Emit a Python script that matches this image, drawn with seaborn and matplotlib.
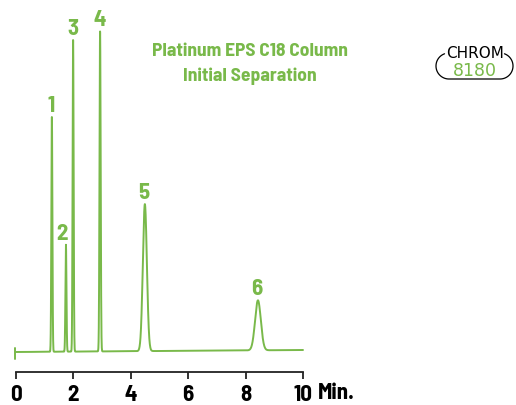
import numpy as np
import pandas as pd
import matplotlib
matplotlib.use("Agg")
import matplotlib.pyplot as plt
import seaborn as sns

# Peak table: retention time (min), height (detector units), width (sigma, min)
peak_ids = ["1", "2", "3", "4", "5", "6"]
retention = [1.25, 1.74, 1.99, 2.93, 4.49, 8.43]
heights = [235, 107, 312, 320, 147, 50]
sigmas = [0.018, 0.018, 0.018, 0.020, 0.070, 0.100]
label_dx = [-1, -4, 0, 0, -1, -1]          # label nudge, pixels
baseline_drift = [0.0, 2.0]               # signal at 0 and 10 min

x_ticks = [0, 2, 4, 6, 8, 10]
x_tick_labels = ["0", "2", "4", "6", "8", "10"]
title_lines = ["Platinum EPS C18 Column", "Initial Separation"]

GREEN = "#79b94a"
DARK = "#222222"

sns.set_style("white")
COND = ["Barlow Semi Condensed", "Roboto Condensed", "DejaVu Sans"]
plt.rcParams["font.family"] = COND

W, H = 516, 405
fig = plt.figure(figsize=(W / 100, H / 100), dpi=100)
ax = fig.add_axes([16 / W, 33 / H, (303 - 16) / W, 372 / H])

# Chromatogram trace built from the peak table
t = np.linspace(-0.03, 10.0, 4000)
sig = baseline_drift[0] + (baseline_drift[1] - baseline_drift[0]) * np.clip(t, 0, 10) / 10
for rt, h, s in zip(retention, heights, sigmas):
    sig = sig + h * np.exp(-0.5 * ((t - rt) / s) ** 2)
df = pd.DataFrame({"time": t, "signal": sig})
sns.lineplot(data=df, x="time", y="signal", ax=ax, color=GREEN, lw=1.4,
             clip_on=False, estimator=None, sort=False)
# injection marker at the start of the trace
ax.plot([-0.03, -0.03], [-7, 4], color=GREEN, lw=1.4, clip_on=False)

for pid, rt, h, dx in zip(peak_ids, retention, heights, label_dx):
    ax.annotate(pid, xy=(rt, h + baseline_drift[1] * rt / 10), xytext=(dx, 1),
                textcoords="offset pixels", ha="center", va="bottom",
                color=GREEN, fontsize=16.5, fontweight="bold")

ax.set_xlim(0, 10)
ax.set_ylim(-20, 352)
ax.set_xlabel("")
ax.set_ylabel("")
ax.set_yticks([])
ax.set_xticks(x_ticks)
ax.set_xticklabels(x_tick_labels, fontsize=16.5, fontweight="bold", color="black")
ax.tick_params(axis="x", direction="out", length=5, width=1.3, color=DARK, pad=4.5,
               bottom=True)
for side in ["left", "top", "right"]:
    ax.spines[side].set_visible(False)
ax.spines["bottom"].set_color(DARK)
ax.spines["bottom"].set_linewidth(1.3)
ax.patch.set_alpha(0)

ax.annotate("Min.", xy=(10, 0), xycoords=("data", "axes fraction"),
            xytext=(15, -11), textcoords="offset pixels", ha="left", va="top",
            fontsize=16.5, fontweight="bold", color="black")

# Header text
fig.text(250 / W, 1 - 51 / H, title_lines[0], ha="center", va="center",
         color=GREEN, fontsize=14, fontweight="bold")
fig.text(250 / W, 1 - 76 / H, title_lines[1], ha="center", va="center",
         color=GREEN, fontsize=14, fontweight="bold")

# CHROM badge
def px(x, y):
    return x / W, 1 - y / H

th = np.radians(np.linspace(250, 90, 60))
left = [px(449 + 13 * np.cos(a), 66 + 13 * np.sin(a)) for a in th]
th = np.radians(np.linspace(90, -70, 60))
right = [px(500 + 13 * np.cos(a), 66 + 13 * np.sin(a)) for a in th]
pts = np.array(left + right)
fig.add_artist(plt.Line2D(pts[:, 0], pts[:, 1], color="black", lw=0.9,
                          transform=fig.transFigure))
fig.text(*px(475, 53), "CHROM", ha="center", va="center", fontsize=11,
         family="DejaVu Sans", color="black")
fig.text(*px(475, 71), "8180", ha="center", va="center", fontsize=12.5,
         family="DejaVu Sans", color=GREEN)

fig.savefig("out.png", dpi=100)
